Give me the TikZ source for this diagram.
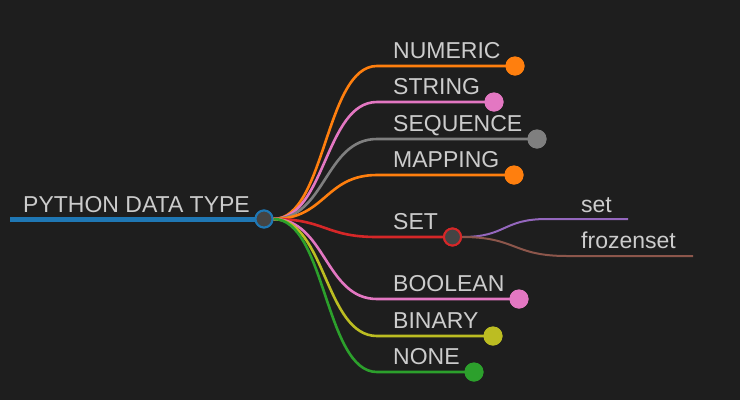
\documentclass[tikz,border=0pt]{standalone}
\usepackage{fontspec}
\setmainfont{Liberation Sans}
\definecolor{bg}{HTML}{1E1E1E}
\definecolor{txt}{HTML}{CCCCCC}
\definecolor{cblue}{HTML}{1F77B4}
\definecolor{corange}{HTML}{FF7F0E}
\definecolor{cpink}{HTML}{E377C2}
\definecolor{cgray}{HTML}{7F7F7F}
\definecolor{cred}{HTML}{D62728}
\definecolor{colive}{HTML}{BCBD22}
\definecolor{cgreen}{HTML}{2CA02C}
\definecolor{cpurple}{HTML}{9467BD}
\definecolor{cbrown}{HTML}{8C564B}
\definecolor{hub}{HTML}{444444}
\tikzset{
  lbl/.style={anchor=base west, text=txt, inner sep=0pt, font=\fontsize{23}{27}\selectfont},
  dotnode/.style={circle, fill=#1, minimum size=19pt, inner sep=0pt},
  hubnode/.style={circle, fill=hub, draw=#1, line width=2pt, minimum size=17pt, inner sep=0pt},
  branch/.style={draw=#1, line width=2.6pt},
}
\begin{document}
\begin{tikzpicture}[x=1pt,y=-1pt]
\fill[bg] (0,0) rectangle (740,400);
\useasboundingbox (0,0) rectangle (740,400);
% root
\coordinate (rs) at (10,219);
\node[hubnode=cblue] (root) at (264,219) {};
\draw[cblue, line width=5pt] (rs) -- (root.west);
\node[lbl] (troot) at (23,212) {PYTHON DATA TYPE};
% branch ends
\coordinate (c1) at (377,66);
\coordinate (c2) at (377,102);
\coordinate (c3) at (377,139);
\coordinate (c4) at (377,175);
\coordinate (c5) at (377,237);
\coordinate (c6) at (377,299);
\coordinate (c7) at (377,336);
\coordinate (c8) at (377,372);
\node[dotnode=corange] (d1) at (515,66) {};
\node[dotnode=cpink] (d2) at (494,102) {};
\node[dotnode=cgray] (d3) at (537,139) {};
\node[dotnode=corange] (d4) at (514,175) {};
\node[hubnode=cred] (d5) at (452.5,237) {};
\node[dotnode=cpink] (d6) at (519,299) {};
\node[dotnode=colive] (d7) at (493,336) {};
\node[dotnode=cgreen] (d8) at (474,372) {};
\path[branch=corange] (root.east) .. controls +(52,0) and +(-52,0) .. (c1) -- (d1.center);
\path[branch=cpink] (root.east) .. controls +(52,0) and +(-52,0) .. (c2) -- (d2.center);
\path[branch=cgray] (root.east) .. controls +(52,0) and +(-52,0) .. (c3) -- (d3.center);
\path[branch=corange] (root.east) .. controls +(52,0) and +(-52,0) .. (c4) -- (d4.center);
\path[branch=cred] (root.east) .. controls +(52,0) and +(-52,0) .. (c5) -- (d5.west);
\path[branch=cpink] (root.east) .. controls +(52,0) and +(-52,0) .. (c6) -- (d6.center);
\path[branch=colive] (root.east) .. controls +(52,0) and +(-52,0) .. (c7) -- (d7.center);
\path[branch=cgreen] (root.east) .. controls +(52,0) and +(-52,0) .. (c8) -- (d8.center);
% redraw dots on top
\node[dotnode=corange] at (d1) {};
\node[dotnode=cpink] at (d2) {};
\node[dotnode=cgray] at (d3) {};
\node[dotnode=corange] at (d4) {};
\node[dotnode=cpink] at (d6) {};
\node[dotnode=colive] at (d7) {};
\node[dotnode=cgreen] at (d8) {};
\node[hubnode=cblue] at (root) {};
% labels
\node[lbl] (t1) at (393,58) {NUMERIC};
\node[lbl] (t2) at (393,94) {STRING};
\node[lbl] (t3) at (393,131) {SEQUENCE};
\node[lbl] (t4) at (393,167) {MAPPING};
\node[lbl] (t5) at (393,229) {SET};
\node[lbl] (t6) at (393,291) {BOOLEAN};
\node[lbl] (t7) at (393,328) {BINARY};
\node[lbl] (t8) at (393,364) {NONE};
% sub branches
\coordinate (s1) at (547,219);
\coordinate (e1) at (628,219);
\coordinate (s2) at (567,256);
\coordinate (e2) at (693,256);
\draw[cpurple, line width=2pt] (d5.east) .. controls +(45,0) and +(-45,0) .. (s1) -- (e1);
\draw[cbrown, line width=2pt] (d5.east) .. controls +(55,0) and +(-55,0) .. (s2) -- (e2);
\node[hubnode=cred] at (d5) {};
\node[lbl] (ts1) at (581,212) {set};
\node[lbl] (ts2) at (581,248) {frozenset};
\end{tikzpicture}
\end{document}
